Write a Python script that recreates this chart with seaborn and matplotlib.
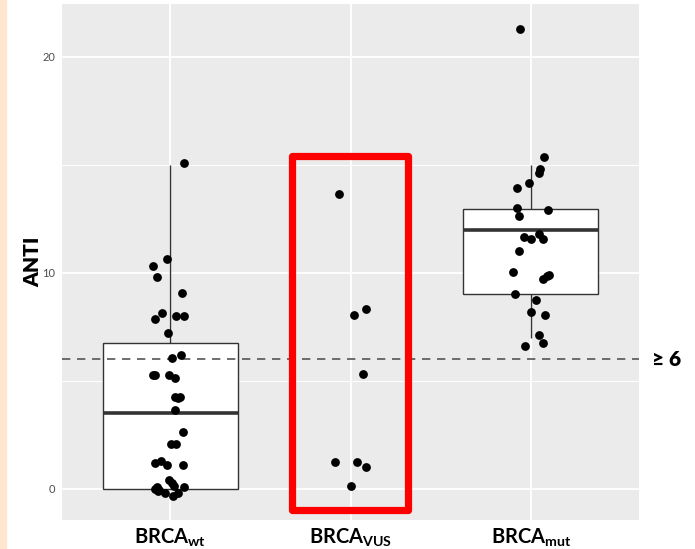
import matplotlib
matplotlib.use('Agg')
import numpy as np
import pandas as pd
import matplotlib.pyplot as plt
import seaborn as sns
from matplotlib.patches import Rectangle
from matplotlib.ticker import MultipleLocator

# Groups on the x axis
groups = ['wt', 'VUS', 'mut']
group_labels = [r'$\mathbf{BRCA}_{\mathbf{wt}}$',
                r'$\mathbf{BRCA}_{\mathbf{VUS}}$',
                r'$\mathbf{BRCA}_{\mathbf{mut}}$']

# ANTI values (jittered points) + horizontal jitter
wt_anti = [15.08, 10.63, 10.29, 9.80, 9.06, 8.16, 7.87, 7.98, 7.98, 7.21,
           6.20, 6.05, 5.26, 5.26, 5.29, 5.14, 4.27, 4.24, 4.22, 3.65,
           2.64, 2.08, 2.08, 1.31, 1.19, 1.10, 1.10, 0.42, 0.26, 0.03,
           0.0, 0.08, -0.20, -0.32, -0.20, -0.05, 0.10, -0.10, 0.15]
wt_jitter = [0.079, -0.017, -0.093, -0.071, 0.064, -0.048, -0.087, 0.033, 0.079, -0.013,
             0.061, 0.009, -0.098, -0.082, -0.009, 0.028, 0.024, 0.052, 0.045, 0.028,
             0.072, 0.003, 0.033, -0.050, -0.083, -0.019, 0.072, -0.009, 0.011, -0.072,
             -0.082, 0.079, -0.026, 0.014, 0.046, -0.060, -0.075, -0.068, 0.020]

vus_anti = [13.66, 8.33, 8.06, 5.34, 1.25, 1.25, 1.03, 0.14]
vus_jitter = [-0.065, 0.085, 0.022, 0.072, -0.085, 0.037, 0.085, 0.002]

mut_anti = [21.28, 15.37, 14.81, 14.61, 14.15, 13.94, 13.00, 12.64, 12.88, 11.65,
            11.57, 11.77, 11.57, 11.00, 10.03, 9.71, 9.83, 9.90, 9.04, 8.75,
            8.19, 8.04, 7.13, 6.75, 6.59]
mut_jitter = [-0.061, 0.074, 0.052, 0.046, -0.011, -0.074, -0.078, -0.063, 0.098, -0.037,
              0.002, 0.048, 0.065, -0.068, -0.098, 0.065, 0.090, 0.100, -0.089, 0.030,
              0.000, 0.080, 0.043, 0.067, -0.035]

# Box summaries (lower whisker, Q1, median, Q3, upper whisker); VUS has no box
wt_box = [0.0, 0.0, 3.52, 6.76, 15.0]
mut_box = [6.98, 9.0, 11.96, 12.96, 15.0]

cutoff = 6
highlight_y = [-0.97, 15.38]

# data frames
box_df = pd.DataFrame({'group': ['wt'] * len(wt_box) + ['mut'] * len(mut_box),
                       'ANTI': wt_box + mut_box})
pts = pd.DataFrame({
    'pos': [0 + j for j in wt_jitter] + [1 + j for j in vus_jitter] + [2 + j for j in mut_jitter],
    'ANTI': wt_anti + vus_anti + mut_anti,
})

sns.set_theme(style='darkgrid', rc={
    'axes.facecolor': '#EBEBEB',
    'grid.color': 'white',
    'grid.linewidth': 1.3,
})
plt.rcParams['font.family'] = ['Lato', 'DejaVu Sans']
plt.rcParams['mathtext.fontset'] = 'custom'
plt.rcParams['mathtext.bf'] = 'Lato:bold'
plt.rcParams['mathtext.rm'] = 'Lato'

fig = plt.figure(figsize=(6.95, 5.49), dpi=100)
ax = fig.add_axes([62 / 695, 1 - 520 / 549, 577 / 695, 516 / 549])

# peach strip at the left edge
fig.patches.append(Rectangle((0, 0), 6 / 695, 1, transform=fig.transFigure,
                             color='#FDE8CF', zorder=0))

sns.boxplot(data=box_df, x='group', y='ANTI', order=groups, color='white',
            saturation=1, linecolor='#333333', linewidth=1, width=0.75,
            showfliers=False, showcaps=False,
            medianprops=dict(linewidth=2.6, color='#333333'),
            ax=ax)

ax.axhline(cutoff, color='#555555', lw=1.2, ls=(0, (5, 4)), zorder=2)

sns.scatterplot(data=pts, x='pos', y='ANTI', color='black', s=40,
                linewidth=0, ax=ax, zorder=4)

# red highlight box around the VUS group
ax.add_patch(Rectangle((1 - 0.323, highlight_y[0]), 0.643, highlight_y[1] - highlight_y[0],
                       fill=False, edgecolor='#FF0000', lw=5.2, joinstyle='round',
                       zorder=5, clip_on=False))

ax.set_xlim(-0.6, 2.6)
ax.set_ylim(-1.435, 22.43)
ax.set_xticks([0, 1, 2])
ax.set_xticklabels(group_labels, fontsize=14.5, color='black')
ax.set_yticks([0, 10, 20])
ax.set_yticklabels(['0', '10', '20'], fontsize=8, color='#4D4D4D')
ax.yaxis.set_minor_locator(MultipleLocator(5))
ax.grid(which='major', color='white', lw=1.3)
ax.grid(which='minor', axis='y', color='white', lw=0.7)
ax.tick_params(axis='both', which='major', length=3, width=0.9, color='#333333', pad=2)
ax.tick_params(axis='y', which='minor', length=0)
ax.set_xlabel('')
ax.set_ylabel('ANTI', fontsize=15, fontweight='heavy', color='black', labelpad=0)
for s in ax.spines.values():
    s.set_visible(False)

ax.text(1.022, cutoff, '≥ 6', transform=ax.get_yaxis_transform(), fontsize=15,
        fontweight='heavy', va='center', ha='left', color='black')

fig.savefig('out.png', dpi=100)
